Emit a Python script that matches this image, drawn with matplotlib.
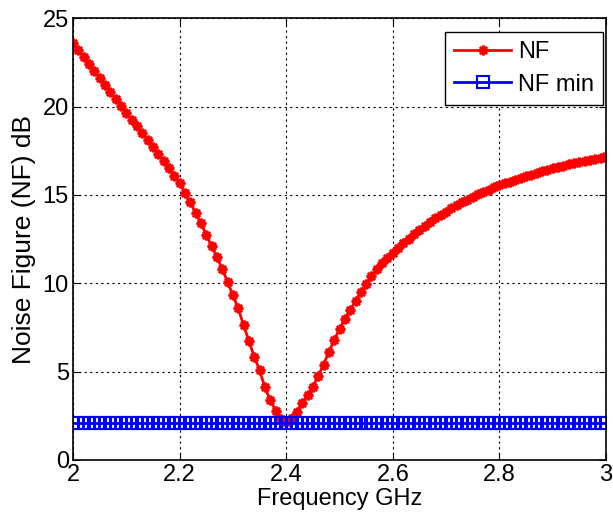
import numpy as np
import matplotlib.pyplot as plt

plt.rcParams['font.family'] = ['Liberation Sans', 'DejaVu Sans']

# DATOS (paso 0.01 GHz)
freq = np.round(np.arange(2.0, 3.0001, 0.01), 2)
nf = [23.60, 23.20, 22.81, 22.42, 22.02, 21.63, 21.23, 20.84, 20.45, 20.05,
      19.66, 19.27, 18.88, 18.49, 18.10, 17.71, 17.31, 16.91, 16.50, 16.08,
      15.66, 15.14, 14.58, 13.99, 13.40, 12.76, 12.10, 11.50, 10.80, 10.09,
      9.32, 8.58, 7.64, 6.75, 5.85, 5.09, 4.12, 3.40, 2.80, 2.32,
      2.17, 2.36, 2.73, 3.20, 3.68, 4.15, 4.75, 5.40, 6.10, 6.80,
      7.40, 8.00, 8.50, 9.00, 9.50, 9.95, 10.40, 10.80, 11.15, 11.45,
      11.70, 12.00, 12.26, 12.52, 12.78, 13.03, 13.26, 13.49, 13.68, 13.87,
      14.06, 14.25, 14.43, 14.58, 14.74, 14.88, 15.03, 15.18, 15.31, 15.44,
      15.56, 15.66, 15.76, 15.86, 15.95, 16.05, 16.15, 16.25, 16.35, 16.43,
      16.51, 16.58, 16.65, 16.73, 16.80, 16.87, 16.93, 16.99, 17.05, 17.12,
      17.20]
nf_min_val = 2.1
nf_min = [nf_min_val] * len(freq)

xticks = [2, 2.2, 2.4, 2.6, 2.8, 3]
xticklabels = ['2', '2.2', '2.4', '2.6', '2.8', '3']
yticks = [0, 5, 10, 15, 20, 25]

# GRAFICA
fig = plt.figure(figsize=(6.13, 5.19), dpi=100)
ax = fig.add_axes([0.119, 0.1137, 0.8697, 0.851])

ax.plot(freq, nf, '-', color='red', lw=2, marker=(8, 2, 0), ms=7, mew=1.8,
        label='NF')
ax.plot(freq, nf_min, '-', color='blue', lw=2, marker='s', ms=8.5,
        mfc='none', mew=1.5, label='NF min')

ax.set_xlim(2, 3)
ax.set_ylim(0, 25)
ax.set_xticks(xticks)
ax.set_xticklabels(xticklabels)
ax.set_yticks(yticks)
ax.tick_params(direction='in', length=5, labelsize=17, top=True, right=True,
               pad=3)
ax.grid(True, color='black', linestyle=(0, (2, 3)), linewidth=0.8)
for s in ax.spines.values():
    s.set_linewidth(1.2)

ax.set_xlabel('Frequency GHz', fontsize=17, labelpad=1)
ax.set_ylabel('Noise Figure (NF) dB', fontsize=19, labelpad=5)

leg = ax.legend(loc='upper right', bbox_to_anchor=(0.995, 0.97), fontsize=17,
                fancybox=False, edgecolor='black', framealpha=1,
                borderaxespad=0, handlelength=2.4, handletextpad=0.3,
                borderpad=0.4, labelspacing=0.45)
leg.get_frame().set_linewidth(1.0)

plt.savefig('out.png', dpi=100)
